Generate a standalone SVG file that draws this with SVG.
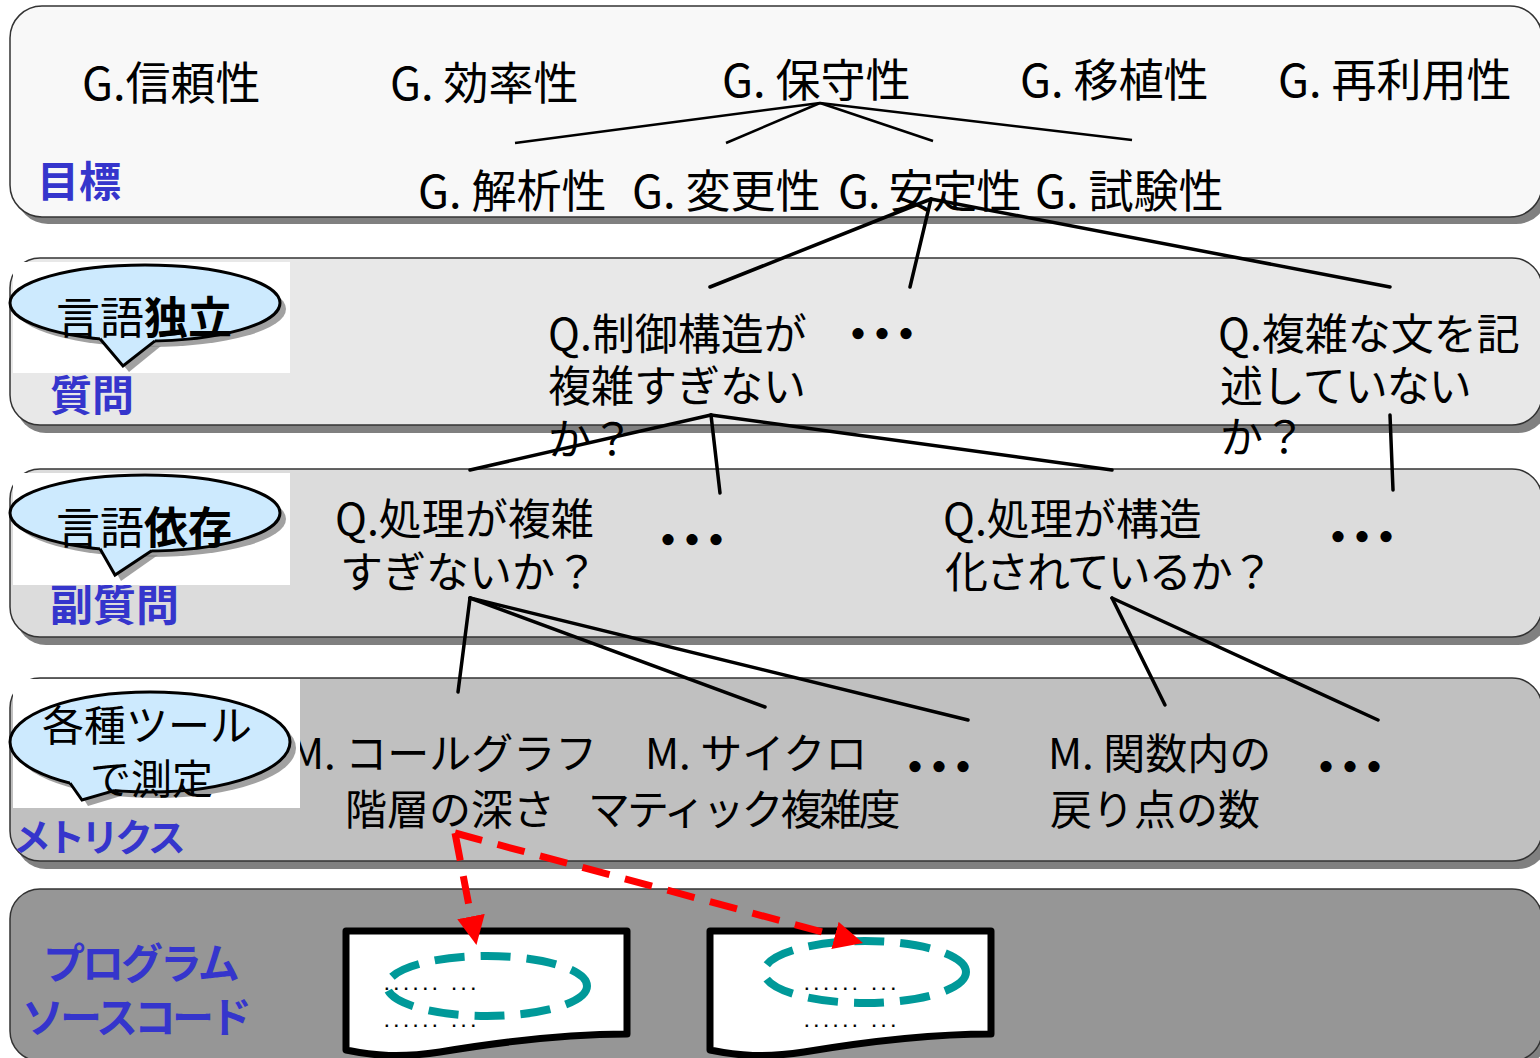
<svg xmlns="http://www.w3.org/2000/svg" width="1540" height="1058" viewBox="0 0 1540 1058">
<defs>
<style>
.band{stroke:#333;stroke-width:1.5}
.shadow{fill:#808080}
.t{font-family:"Noto Sans CJK JP","Noto Sans",sans-serif;font-size:43px;fill:#000}
.tg{font-family:"Noto Sans CJK JP","Noto Sans",sans-serif;font-size:45px;fill:#000}
.tm{font-family:"Noto Sans CJK JP","Noto Sans",sans-serif;font-size:42px;fill:#000}
.lbl{font-family:"Noto Sans CJK JP","Noto Sans",sans-serif;font-size:42px;font-weight:bold;fill:#3535cc}
.dots{font-family:"Noto Sans CJK JP",sans-serif;font-size:40px;font-weight:900;letter-spacing:-16px;text-anchor:middle;fill:#000}
.co{fill:#cdeafe;stroke:#000;stroke-width:3}
.cosh{fill:#8a8a8a;opacity:0.8}
.cotxt{font-family:"Noto Sans CJK JP","Noto Sans",sans-serif;font-size:44px;fill:#000}
.ln{stroke:#000;stroke-width:3.5;fill:none;stroke-linecap:round}
.ln2{stroke:#000;stroke-width:2.5;fill:none}
.red{stroke:#ff0000;stroke-width:7;fill:none;stroke-dasharray:28 16}
.doc{fill:#fff;stroke:#000;stroke-width:7;stroke-linejoin:round}
.teal{fill:none;stroke:#009999;stroke-width:8;stroke-dasharray:30 16}
.code{font-family:"Liberation Mono",monospace;font-size:16px;font-weight:bold;fill:#000}
</style>
<marker id="ah" markerUnits="userSpaceOnUse" markerWidth="30" markerHeight="28" refX="0" refY="14" orient="auto">
<path d="M0,0 L29,14 L0,28 Z" fill="#ff0000"/>
</marker>
</defs>
<rect width="1540" height="1058" fill="#fff"/>

<!-- bands -->
<g id="band-goal">
<rect class="shadow" x="16" y="13" width="1532" height="211" rx="32"/>
<rect class="band" x="10" y="6" width="1532" height="211" rx="32" fill="#f8f8f8"/>
</g>
<g id="band-question">
<rect class="shadow" x="16" y="265" width="1532" height="168" rx="30"/>
<rect class="band" x="10" y="258" width="1532" height="167" rx="30" fill="#e8e8e8"/>
</g>
<g id="band-subquestion">
<rect class="shadow" x="16" y="476" width="1532" height="169" rx="30"/>
<rect class="band" x="10" y="469" width="1532" height="168" rx="30" fill="#dcdcdc"/>
</g>
<g id="band-metrics">
<rect class="shadow" x="16" y="685" width="1532" height="184" rx="30"/>
<rect class="band" x="10" y="678" width="1532" height="183" rx="30" fill="#c0c0c0"/>
</g>
<g id="band-source">
<rect class="shadow" x="16" y="896" width="1532" height="170" rx="30"/>
<rect class="band" x="10" y="889" width="1532" height="172" rx="30" fill="#969696"/>
</g>

<!-- layer labels -->
<g id="label-goal"><text class="lbl" x="37" y="197">目標</text></g>
<g id="label-question"><text class="lbl" x="50" y="411">質問</text></g>
<g id="label-subquestion"><text class="lbl" x="50" y="621" style="font-size:43px">副質問</text></g>
<g id="label-metrics"><text class="lbl" x="13" y="851" style="font-size:38px;letter-spacing:-4px">メトリクス</text></g>
<g id="label-source"><text class="lbl" style="letter-spacing:-3px"><tspan x="43" y="979">プログラム</tspan><tspan x="22" y="1033" style="letter-spacing:-4px">ソースコード</tspan></text></g>

<!-- connectors -->
<g id="connectors">
<line class="ln2" x1="820" y1="103" x2="515" y2="143"/>
<line class="ln2" x1="820" y1="103" x2="726" y2="143"/>
<line class="ln2" x1="820" y1="103" x2="933" y2="141"/>
<line class="ln2" x1="820" y1="103" x2="1132" y2="140"/>
<line class="ln" x1="931" y1="199" x2="710" y2="287"/>
<line class="ln" x1="931" y1="199" x2="910" y2="287"/>
<line class="ln" x1="931" y1="199" x2="1390" y2="287"/>
<line class="ln" x1="711" y1="415" x2="470" y2="470"/>
<line class="ln" x1="711" y1="415" x2="720" y2="493"/>
<line class="ln" x1="711" y1="415" x2="1112" y2="470"/>
<line class="ln" x1="1390" y1="415" x2="1393" y2="490"/>
<line class="ln" x1="470" y1="598" x2="458" y2="692"/>
<line class="ln" x1="470" y1="598" x2="765" y2="707"/>
<line class="ln" x1="470" y1="598" x2="968" y2="720"/>
<line class="ln" x1="1112" y1="598" x2="1165" y2="705"/>
<line class="ln" x1="1112" y1="598" x2="1378" y2="720"/>
</g>

<!-- goal nodes -->
<g id="g-reliability"><text class="tg" x="82" y="100">G.信頼性</text></g>
<g id="g-efficiency"><text class="tg" x="390" y="100">G. 効率性</text></g>
<g id="g-maintainability"><text class="tg" x="722" y="97">G. 保守性</text></g>
<g id="g-portability"><text class="tg" x="1020" y="97">G. 移植性</text></g>
<g id="g-reusability"><text class="tg" x="1278" y="97">G. 再利用性</text></g>
<g id="g-analyzability"><text class="tg" x="418" y="208">G. 解析性</text></g>
<g id="g-changeability"><text class="tg" x="632" y="208">G. 変更性</text></g>
<g id="g-stability"><text class="tg" x="838" y="208" style="letter-spacing:-1px">G. 安定性</text></g>
<g id="g-testability"><text class="tg" x="1035" y="208">G. 試験性</text></g>

<!-- question nodes -->
<g id="q-control"><text class="t"><tspan x="548" y="350">Q.制御構造が</tspan><tspan x="548" y="402">複雑すぎない</tspan><tspan x="548" y="455">か？</tspan></text></g>
<g id="q-dots"><text class="dots" x="874" y="349">・・・</text></g>
<g id="q-complex"><text class="t"><tspan x="1218" y="350">Q.複雑な文を記</tspan><tspan x="1220" y="402" style="letter-spacing:-1px">述していない</tspan><tspan x="1220" y="453">か？</tspan></text></g>

<!-- sub-question nodes -->
<g id="sq-complex"><text class="t"><tspan x="335" y="535">Q.処理が複雑</tspan><tspan x="340" y="588">すぎないか？</tspan></text></g>
<g id="sq-dots1"><text class="dots" x="684" y="555">・・・</text></g>
<g id="sq-structured"><text class="t"><tspan x="943" y="535">Q.処理が構造</tspan><tspan x="945" y="588" style="letter-spacing:-2px">化されているか？</tspan></text></g>
<g id="sq-dots2"><text class="dots" x="1354" y="552">・・・</text></g>

<!-- metric nodes -->
<g id="m-callgraph"><text class="tm"><tspan x="290" y="769">M. コールグラフ</tspan><tspan x="345" y="825">階層の深さ</tspan></text></g>
<g id="m-cyclomatic"><text class="tm"><tspan x="645" y="769">M. サイクロ</tspan><tspan x="588" y="825" style="letter-spacing:-3px">マティック複雑度</tspan></text></g>
<g id="m-dots1"><text class="dots" x="931" y="782">・・・</text></g>
<g id="m-returns"><text class="tm"><tspan x="1048" y="769">M. 関数内の</tspan><tspan x="1050" y="825">戻り点の数</tspan></text></g>
<g id="m-dots2"><text class="dots" x="1342" y="782">・・・</text></g>

<!-- callouts -->
<g id="callout-independent">
<rect x="13" y="262" width="277" height="111" fill="#fff"/>
<ellipse class="cosh" cx="151" cy="309" rx="135" ry="38"/>
<polygon class="cosh" points="106,344 129,372 161,346"/>
<ellipse class="co" cx="145" cy="303" rx="135" ry="38"/>
<polygon points="100,333 100,339 123,366 155,341 155,333" fill="#cdeafe"/>
<polyline points="100,338.8 123,366 155,340.9" fill="none" stroke="#000" stroke-width="3" stroke-linejoin="miter"/>
<text class="cotxt" x="56" y="334">言語<tspan font-weight="bold">独立</tspan></text>
</g>
<g id="callout-dependent">
<rect x="13" y="473" width="277" height="112" fill="#fff"/>
<ellipse class="cosh" cx="151" cy="519" rx="135" ry="38"/>
<polygon class="cosh" points="106,554 121,581 158,555"/>
<ellipse class="co" cx="145" cy="513" rx="135" ry="38"/>
<polygon points="100,543 100,549 115,575 152,550 152,543" fill="#cdeafe"/>
<polyline points="100,548.8 115,575 152,550.5" fill="none" stroke="#000" stroke-width="3"/>
<text class="cotxt" x="56" y="544">言語<tspan font-weight="bold">依存</tspan></text>
</g>
<g id="callout-tools">
<rect x="13" y="679" width="287" height="129" fill="#fff"/>
<ellipse class="cosh" cx="156" cy="748" rx="140" ry="50"/>
<polygon class="cosh" points="76,787 88,806 121,796"/>
<ellipse class="co" cx="150" cy="742" rx="140" ry="50"/>
<polygon points="70,776 70,783 82,800 115,790 115,776" fill="#cdeafe"/>
<polyline points="70,783 82,800 115,790.4" fill="none" stroke="#000" stroke-width="3"/>
<text class="cotxt"><tspan x="42" y="741" style="font-size:42px">各種ツール</tspan><tspan x="90" y="794" style="font-size:41px">で測定</tspan></text>
</g>

<!-- source documents -->
<g id="doc1">
<path class="doc" d="M346,931 H627 V1034 C570,1034 500,1042 440,1052 C400,1058 375,1056 346,1050 Z"/>
<text class="code"><tspan x="382" y="990">...... ...</tspan><tspan x="382" y="1027">...... ...</tspan></text>
<ellipse class="teal" cx="487" cy="986" rx="100" ry="30"/>
</g>
<g id="doc2">
<path class="doc" d="M710,931 H991 V1034 C934,1034 864,1042 804,1052 C764,1058 739,1056 710,1050 Z"/>
<text class="code"><tspan x="802" y="990">...... ...</tspan><tspan x="802" y="1027">...... ...</tspan></text>
<ellipse class="teal" cx="865" cy="972" rx="101" ry="31"/>
</g>

<!-- red dashed arrows -->
<g id="arrows">
<line class="red" x1="455" y1="833" x2="471" y2="916.5" marker-end="url(#ah)"/>
<line class="red" x1="455" y1="833" x2="835" y2="935.4" marker-end="url(#ah)"/>
</g>
</svg>
